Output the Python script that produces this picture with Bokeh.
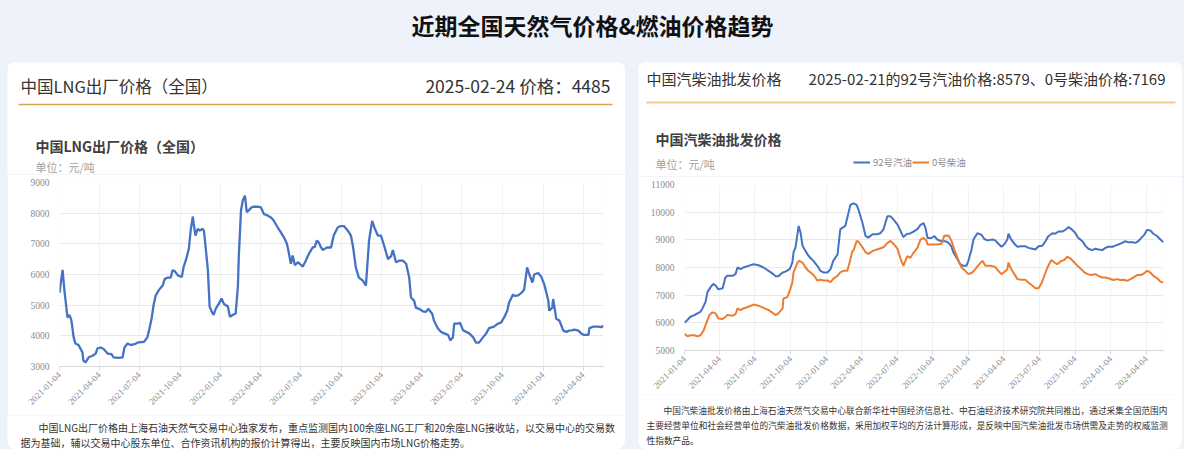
import pandas as pd
from math import pi
from bokeh.plotting import figure
from bokeh.layouts import column, row
from bokeh.models import (Range1d, FixedTicker, DatetimeTickFormatter, Legend,
                          LegendItem)
from bokeh.core.properties import value
from bokeh.embed import file_html
from bokeh.resources import INLINE

# ---------------- data ----------------
page_title = "近期全国天然气价格&燃油价格趋势"
lng_header = "中国LNG出厂价格（全国）"
lng_latest = "2025-02-24 价格：4485"
lng_chart_title = "中国LNG出厂价格（全国）"
oil_header = "中国汽柴油批发价格"
oil_latest = "2025-02-21的92号汽油价格:8579、0号柴油价格:7169"
oil_chart_title = "中国汽柴油批发价格"
unit_text = "单位：元/吨"
series_names = ["92号汽油", "0号柴油"]
lng_note = ["中国LNG出厂价格由上海石油天然气交易中心独家发布，重点监测国内100余座LNG工厂和20余座LNG接收站，以交易中心的交易数",
            "据为基础，辅以交易中心股东单位、合作资讯机构的报价计算得出，主要反映国内市场LNG价格走势。"]
oil_note = ["中国汽柴油批发价格由上海石油天然气交易中心联合新华社中国经济信息社、中石油经济技术研究院共同推出，通过采集全国范围内",
            "主要经营单位和社会经营单位的汽柴油批发价格数据，采用加权平均的方法计算形成，是反映中国汽柴油批发市场供需及走势的权威监测",
            "性指数产品。"]

x_tick_labels = ["2021-01-04", "2021-04-04", "2021-07-04", "2021-10-04",
                 "2022-01-04", "2022-04-04", "2022-07-04", "2022-10-04",
                 "2023-01-04", "2023-04-04", "2023-07-04", "2023-10-04",
                 "2024-01-04", "2024-04-04"]
lng_y_ticks = [3000, 4000, 5000, 6000, 7000, 8000, 9000]
oil_y_ticks = [5000, 6000, 7000, 8000, 9000, 10000, 11000]

lng_dates = [
    "2021-01-04", "2021-01-11", "2021-01-15", "2021-01-22", "2021-01-27", "2021-01-31",
    "2021-02-05", "2021-02-09", "2021-02-16", "2021-02-25", "2021-02-27", "2021-03-04",
    "2021-03-11", "2021-03-20", "2021-03-27", "2021-03-31", "2021-04-07", "2021-04-14",
    "2021-04-23", "2021-05-02", "2021-05-06", "2021-05-18", "2021-05-27", "2021-05-31",
    "2021-06-07", "2021-06-14", "2021-06-25", "2021-07-02", "2021-07-14", "2021-07-22",
    "2021-07-27", "2021-08-01", "2021-08-05", "2021-08-10", "2021-08-17", "2021-08-26",
    "2021-08-30", "2021-09-06", "2021-09-13", "2021-09-17", "2021-09-22", "2021-09-29",
    "2021-10-08", "2021-10-12", "2021-10-17", "2021-10-24", "2021-10-28", "2021-11-02",
    "2021-11-04", "2021-11-08", "2021-11-13", "2021-11-18", "2021-11-24", "2021-11-27",
    "2021-12-01", "2021-12-06", "2021-12-10", "2021-12-15", "2021-12-19", "2021-12-24",
    "2021-12-31", "2022-01-06", "2022-01-11", "2022-01-15", "2022-01-20", "2022-01-25",
    "2022-01-31", "2022-02-07", "2022-02-12", "2022-02-14", "2022-02-19", "2022-02-23",
    "2022-02-28", "2022-03-04", "2022-03-09", "2022-03-15", "2022-03-20", "2022-03-29",
    "2022-04-05", "2022-04-12", "2022-04-18", "2022-04-28", "2022-05-04", "2022-05-13",
    "2022-05-20", "2022-05-27", "2022-06-03", "2022-06-07", "2022-06-12", "2022-06-16",
    "2022-06-21", "2022-06-28", "2022-07-02", "2022-07-09", "2022-07-16", "2022-07-23",
    "2022-08-01", "2022-08-05", "2022-08-10", "2022-08-14", "2022-08-19", "2022-08-23",
    "2022-09-02", "2022-09-11", "2022-09-17", "2022-09-26", "2022-10-03", "2022-10-10",
    "2022-10-19", "2022-10-26", "2022-10-31", "2022-11-06", "2022-11-13", "2022-11-22",
    "2022-11-29", "2022-12-06", "2022-12-13", "2022-12-19", "2022-12-26", "2023-01-02",
    "2023-01-09", "2023-01-18", "2023-01-25", "2023-01-29", "2023-02-05", "2023-02-12",
    "2023-02-21", "2023-02-28", "2023-03-07", "2023-03-11", "2023-03-18", "2023-03-22",
    "2023-03-29", "2023-04-07", "2023-04-14", "2023-04-19", "2023-04-28", "2023-05-02",
    "2023-05-11", "2023-05-18", "2023-05-25", "2023-06-03", "2023-06-08", "2023-06-14",
    "2023-06-17", "2023-06-26", "2023-06-30", "2023-07-07", "2023-07-14", "2023-07-21",
    "2023-07-30", "2023-08-05", "2023-08-12", "2023-08-21", "2023-08-28", "2023-09-04",
    "2023-09-15", "2023-09-24", "2023-10-01", "2023-10-08", "2023-10-15", "2023-10-19",
    "2023-10-28", "2023-10-31", "2023-11-09", "2023-11-16", "2023-11-22", "2023-11-25",
    "2023-11-29", "2023-12-04", "2023-12-11", "2023-12-15", "2023-12-24", "2023-12-31",
    "2024-01-07", "2024-01-16", "2024-01-18", "2024-01-25", "2024-01-27", "2024-02-03",
    "2024-02-10", "2024-02-19", "2024-02-26", "2024-03-03", "2024-03-08", "2024-03-15",
    "2024-03-24", "2024-03-31", "2024-04-06", "2024-04-16", "2024-04-18", "2024-04-27",
    "2024-05-08", "2024-05-15", "2024-05-20"]
lng_values = [
    5400, 6150, 5500, 4600, 4680, 4500,
    3950, 3750, 3700, 3460, 3200, 3130,
    3300, 3350, 3420, 3590, 3620, 3570,
    3420, 3400, 3300, 3280, 3300, 3620,
    3750, 3700, 3740, 3790, 3800, 3950,
    4250, 4600, 5000, 5320, 5490, 5650,
    5850, 5900, 5900, 6140, 6110, 5970,
    5920, 6240, 6460, 6840, 7430, 7890,
    7650, 7270, 7490, 7430, 7490, 7430,
    6890, 6140, 4950, 4780, 4680, 4890,
    5050, 5220, 5050, 5000, 4970, 4620,
    4680, 4730, 5600, 6570, 8080, 8410,
    8570, 8030, 8100, 8190, 8210, 8210,
    8190, 7970, 7940, 7860, 7760, 7540,
    7380, 7220, 7000, 6730, 6350, 6620,
    6300, 6400, 6350, 6260, 6460, 6680,
    6890, 6890, 7110, 7050, 6890, 6800,
    6880, 6880, 7270, 7530, 7580, 7580,
    7430, 7270, 6880, 6230, 5900, 5800,
    5640, 7100, 7750, 7500, 7270, 7270,
    6950, 6500, 6600, 6800, 6400, 6450,
    6450, 6350, 5900, 5250, 5150, 4920,
    4880, 4800, 4780, 4880, 4720, 4500,
    4240, 4130, 4080, 4030, 3850, 3950,
    4400, 4400, 4430, 4180, 4130, 4080,
    3950, 3780, 3780, 3950, 4070, 4250,
    4300, 4400, 4430, 4600, 4820, 5080,
    5350, 5300, 5320, 5400, 5500, 5800,
    6230, 6000, 5740, 6000, 6050, 5930,
    5670, 5150, 4820, 4920, 5200, 4560,
    4500, 4170, 4130, 4170, 4180, 4200,
    4170, 4070, 4030, 4030, 4250, 4300,
    4300, 4280, 4330]

gas_dates = [
    "2021-01-04", "2021-01-12", "2021-01-19", "2021-01-30", "2021-02-06", "2021-02-14",
    "2021-02-19", "2021-02-27", "2021-03-04", "2021-03-12", "2021-03-19", "2021-03-25",
    "2021-04-01", "2021-04-12", "2021-04-19", "2021-04-24", "2021-05-07", "2021-05-15",
    "2021-05-20", "2021-05-28", "2021-06-04", "2021-06-17", "2021-06-30", "2021-07-13",
    "2021-07-26", "2021-08-08", "2021-08-20", "2021-08-26", "2021-09-02", "2021-09-13",
    "2021-09-20", "2021-10-01", "2021-10-08", "2021-10-11", "2021-10-16", "2021-10-21",
    "2021-10-24", "2021-10-29", "2021-11-03", "2021-11-16", "2021-11-23", "2021-12-01",
    "2021-12-11", "2021-12-19", "2021-12-27", "2022-01-06", "2022-01-14", "2022-01-21",
    "2022-02-01", "2022-02-08", "2022-02-14", "2022-02-21", "2022-03-01", "2022-03-06",
    "2022-03-14", "2022-03-22", "2022-03-27", "2022-04-06", "2022-04-14", "2022-04-21",
    "2022-05-02", "2022-05-14", "2022-05-22", "2022-05-30", "2022-06-09", "2022-06-17",
    "2022-06-25", "2022-07-05", "2022-07-12", "2022-07-20", "2022-07-30", "2022-08-07",
    "2022-08-15", "2022-08-25", "2022-09-02", "2022-09-10", "2022-09-15", "2022-09-20",
    "2022-09-30", "2022-10-08", "2022-10-15", "2022-10-26", "2022-11-05", "2022-11-13",
    "2022-11-20", "2022-11-26", "2022-12-06", "2022-12-13", "2022-12-21", "2022-12-29",
    "2023-01-03", "2023-01-11", "2023-01-16", "2023-01-26", "2023-02-05", "2023-02-13",
    "2023-02-21", "2023-03-06", "2023-03-13", "2023-03-21", "2023-03-29", "2023-04-05",
    "2023-04-13", "2023-04-16", "2023-04-23", "2023-05-01", "2023-05-09", "2023-05-19",
    "2023-05-29", "2023-06-06", "2023-06-16", "2023-06-24", "2023-07-02", "2023-07-12",
    "2023-07-20", "2023-07-27", "2023-08-07", "2023-08-14", "2023-08-22", "2023-09-01",
    "2023-09-09", "2023-09-17", "2023-09-27", "2023-10-05", "2023-10-12", "2023-10-23",
    "2023-10-30", "2023-11-07", "2023-11-17", "2023-11-25", "2023-12-03", "2023-12-13",
    "2023-12-21", "2023-12-28", "2024-01-08", "2024-01-15", "2024-01-23", "2024-02-02",
    "2024-02-10", "2024-02-18", "2024-02-28", "2024-03-07", "2024-03-14", "2024-03-22",
    "2024-03-30", "2024-04-06", "2024-04-14", "2024-04-22", "2024-05-02", "2024-05-10",
    "2024-05-18"]
gas_values = [
    6000, 6110, 6220, 6280, 6340, 6400,
    6520, 6760, 7110, 7290, 7410, 7350,
    7210, 7250, 7640, 7700, 7700, 7760,
    8000, 7940, 8000, 8060, 8120, 8080,
    8000, 7880, 7760, 7680, 7680, 7820,
    7850, 7940, 8180, 8550, 8730, 9200,
    9500, 9260, 8790, 8470, 8350, 8240,
    8060, 7880, 7820, 7820, 7940, 8240,
    8470, 9380, 9440, 9500, 9970, 10260,
    10320, 10260, 10080, 9610, 9140, 9080,
    9200, 9200, 9240, 9380, 9850, 9850,
    9730, 9550, 9340, 9100, 9220, 9230,
    9300, 9390, 9540, 9600, 9420, 9070,
    9070, 9130, 9010, 8950, 8950, 8890,
    8770, 8530, 8300, 8120, 8060, 8060,
    8240, 8650, 9010, 9240, 9190, 9030,
    8980, 9010, 8980, 8860, 8750, 8830,
    9010, 9220, 9010, 8860, 8750, 8770,
    8770, 8710, 8680, 8650, 8770, 8790,
    8950, 9130, 9240, 9220, 9300, 9300,
    9360, 9460, 9360, 9240, 9070, 8950,
    8790, 8680, 8630, 8680, 8650, 8630,
    8710, 8750, 8750, 8790, 8830, 8890,
    8950, 8910, 8910, 8890, 8950, 9070,
    9190, 9360, 9340, 9220, 9130, 9010,
    8910]

diesel_dates = [
    "2021-01-04", "2021-01-12", "2021-01-19", "2021-01-30", "2021-02-06", "2021-02-14",
    "2021-02-22", "2021-03-01", "2021-03-09", "2021-03-17", "2021-03-25", "2021-04-01",
    "2021-04-12", "2021-04-19", "2021-04-24", "2021-05-07", "2021-05-15", "2021-05-20",
    "2021-05-28", "2021-06-04", "2021-06-17", "2021-06-30", "2021-07-13", "2021-07-26",
    "2021-08-08", "2021-08-20", "2021-08-26", "2021-09-02", "2021-09-13", "2021-09-15",
    "2021-09-25", "2021-10-03", "2021-10-08", "2021-10-11", "2021-10-21", "2021-10-26",
    "2021-11-03", "2021-11-11", "2021-11-18", "2021-11-29", "2021-12-06", "2021-12-11",
    "2021-12-19", "2021-12-27", "2022-01-06", "2022-01-14", "2022-01-21", "2022-02-01",
    "2022-02-08", "2022-02-16", "2022-02-26", "2022-03-04", "2022-03-11", "2022-03-14",
    "2022-03-22", "2022-03-27", "2022-04-06", "2022-04-14", "2022-04-21", "2022-05-04",
    "2022-05-17", "2022-05-30", "2022-06-09", "2022-06-17", "2022-06-25", "2022-07-05",
    "2022-07-12", "2022-07-20", "2022-07-30", "2022-08-07", "2022-08-15", "2022-08-25",
    "2022-09-02", "2022-09-10", "2022-09-17", "2022-09-20", "2022-10-03", "2022-10-15",
    "2022-10-26", "2022-11-02", "2022-11-13", "2022-11-20", "2022-11-28", "2022-12-06",
    "2022-12-16", "2022-12-26", "2023-01-03", "2023-01-13", "2023-01-21", "2023-01-31",
    "2023-02-08", "2023-02-16", "2023-03-01", "2023-03-13", "2023-03-21", "2023-03-29",
    "2023-04-05", "2023-04-13", "2023-04-16", "2023-04-23", "2023-05-01", "2023-05-09",
    "2023-05-19", "2023-05-29", "2023-06-06", "2023-06-16", "2023-06-24", "2023-07-02",
    "2023-07-09", "2023-07-17", "2023-07-25", "2023-08-04", "2023-08-12", "2023-08-19",
    "2023-08-30", "2023-09-06", "2023-09-14", "2023-09-24", "2023-10-02", "2023-10-10",
    "2023-10-20", "2023-10-28", "2023-11-05", "2023-11-15", "2023-11-25", "2023-12-03",
    "2023-12-13", "2023-12-21", "2023-12-28", "2024-01-10", "2024-01-21", "2024-01-28",
    "2024-02-05", "2024-02-15", "2024-02-23", "2024-03-02", "2024-03-12", "2024-03-22",
    "2024-03-30", "2024-04-06", "2024-04-14", "2024-04-22", "2024-05-02", "2024-05-10",
    "2024-05-18"]
diesel_values = [
    5600, 5510, 5550, 5550, 5510, 5550,
    5720, 5990, 6280, 6380, 6340, 6160,
    6140, 6220, 6280, 6260, 6310, 6520,
    6460, 6520, 6580, 6660, 6620, 6540,
    6460, 6340, 6280, 6340, 6520, 6880,
    6930, 7230, 7470, 7820, 8180, 8240,
    8180, 8000, 7880, 7760, 7640, 7530,
    7560, 7530, 7530, 7470, 7590, 7700,
    7820, 7880, 7880, 8180, 8590, 8610,
    8960, 8930, 8730, 8550, 8490, 8610,
    8670, 8730, 8880, 8960, 8850, 8670,
    8350, 8060, 8410, 8350, 8530, 8710,
    9010, 9070, 8980, 8830, 8830, 8830,
    8860, 9150, 9160, 8980, 8650, 8350,
    8000, 7880, 7760, 7820, 7940, 8120,
    8240, 8060, 8060, 8020, 7880, 7760,
    7840, 7940, 8180, 7940, 7760, 7580,
    7560, 7560, 7460, 7350, 7250, 7250,
    7410, 7700, 8000, 8270, 8180, 8120,
    8240, 8270, 8390, 8300, 8180, 8060,
    7940, 7820, 7760, 7730, 7760, 7700,
    7640, 7640, 7610, 7550, 7580, 7550,
    7560, 7520, 7580, 7640, 7730, 7730,
    7800, 7880, 7820, 7700, 7610, 7490,
    7460]

# ---------------- styles ----------------
SANS = "Noto Sans CJK SC"
SERIF = "Liberation Serif"
PAGE_BG = "#edf2fb"
CARD_BG = "#ffffff"
BLUE = "#4472c4"
ORANGE = "#ed7d31"
TICK_C = "#8c8c8c"


def no_align(p):
    if hasattr(p, "frame_align"):
        p.frame_align = False
    return p


def blank(w, h, bg):
    p = figure(width=w, height=h, x_range=Range1d(0, w), y_range=Range1d(h, 0),
               x_axis_type=None, y_axis_type=None, toolbar_location=None,
               output_backend="svg", min_border=0, outline_line_color=None,
               background_fill_color=bg, border_fill_color=bg)
    p.min_border_left = p.min_border_right = p.min_border_top = p.min_border_bottom = 0
    return no_align(p)


def txt(p, x, y, s, size, color, font=SANS, bold=False, align="left"):
    p.text(x=[x], y=[y], text=[s], text_font=value(font), text_font_size=size,
           text_color=color, text_align=align, text_baseline="middle",
           text_font_style="bold" if bold else "normal")


def rule(p, x0, x1, y, color, width):
    p.line(x=[x0, x1], y=[y, y], line_color=color, line_width=width)


def chart(w, h, dates_first, dates_last, yticks, lb, rb, tb, bb):
    p = figure(width=w, height=h, x_axis_type="datetime",
               x_range=Range1d(dates_first, dates_last),
               y_range=Range1d(yticks[0], yticks[-1]),
               toolbar_location=None, output_backend="svg",
               min_border_left=lb, min_border_right=rb,
               min_border_top=tb, min_border_bottom=bb,
               outline_line_color=None, background_fill_color=CARD_BG,
               border_fill_color=CARD_BG)
    tick_ms = [pd.Timestamp(t).value / 1e6 for t in x_tick_labels]
    p.xaxis.ticker = FixedTicker(ticks=tick_ms)
    fmt = "%Y-%m-%d"
    p.xaxis.formatter = DatetimeTickFormatter(
        microseconds=fmt, milliseconds=fmt, seconds=fmt, minsec=fmt, minutes=fmt,
        hourmin=fmt, hours=fmt, days=fmt, months=fmt, years=fmt)
    p.xaxis.major_label_orientation = pi / 4
    p.xaxis.axis_line_color = "#d9d9d9"
    p.xaxis.major_tick_line_color = "#d9d9d9"
    p.xaxis.major_tick_out = 4
    p.xaxis.major_tick_in = 0
    p.xaxis.minor_tick_line_color = None
    p.xaxis.major_label_text_font = SERIF
    p.xaxis.major_label_text_font_size = "9px"
    p.xaxis.major_label_text_color = TICK_C
    p.xaxis.major_label_standoff = 3
    p.yaxis.ticker = FixedTicker(ticks=yticks)
    p.yaxis.axis_line_color = None
    p.yaxis.major_tick_line_color = None
    p.yaxis.minor_tick_line_color = None
    p.yaxis.major_label_text_font = SERIF
    p.yaxis.major_label_text_font_size = "9.5px"
    p.yaxis.major_label_text_color = TICK_C
    p.yaxis.major_label_standoff = 4
    p.ygrid.grid_line_color = "#e9e9e9"
    p.xgrid.grid_line_color = "#f3f3f3"
    return no_align(p)


# ---------------- title band ----------------
W = 1184
title_fig = blank(W, 62, PAGE_BG)
txt(title_fig, 592, 24, page_title, "23px", "#111111", bold=True, align="center")

# ---------------- left card (x 7..625, y 62..449) ----------------
LW = 618
lng_x = pd.to_datetime(lng_dates)
hdr_L = blank(LW, 112, CARD_BG)
txt(hdr_L, 13, 23, lng_header, "16.5px", "#333333")
txt(hdr_L, 603, 23, lng_latest, "17.5px", "#333333", align="right")
rule(hdr_L, 11, 605, 42, "#d6a255", 1.5)
txt(hdr_L, 28, 83, lng_chart_title, "14px", "#404040", bold=True)
txt(hdr_L, 28, 104, unit_text, "11px", "#a0a0a0")

chart_L = chart(LW, 241, lng_x[0], lng_x[-1], lng_y_ticks, 52, 22, 8, 49)
chart_L.line(lng_x, lng_values, line_color=BLUE, line_width=2.3)

foot_L = blank(LW, 34, CARD_BG)
txt(foot_L, 31, 12, lng_note[0], "10px", "#333333")
txt(foot_L, 13, 26.5, lng_note[1], "10px", "#333333")

left_card = column(hdr_L, chart_L, foot_L,
                   styles={"border-radius": "8px", "overflow": "hidden"})

# ---------------- right card (x 638..1182, y 62..449) ----------------
RW = 544
gas_x = pd.to_datetime(gas_dates)
diesel_x = pd.to_datetime(diesel_dates)

chart_R = chart(RW, 218, gas_x[0], gas_x[-1], oil_y_ticks, 46, 19, 8, 41)
r_gas = chart_R.line(gas_x, gas_values, line_color=BLUE, line_width=2)
r_die = chart_R.line(diesel_x, diesel_values, line_color=ORANGE, line_width=2)

hdr_R = blank(RW, 114, CARD_BG)
txt(hdr_R, 8, 16, oil_header, "15px", "#333333")
txt(hdr_R, 527, 16, oil_latest, "15px", "#333333", align="right")
rule(hdr_R, 8, 537, 40, "#f4c98c", 2)
txt(hdr_R, 17, 76, oil_chart_title, "14px", "#404040", bold=True)
txt(hdr_R, 17, 101, unit_text, "11px", "#a0a0a0")
# legend keys styled like the two series lines (no data of their own)
nan = float("nan")
k_gas = hdr_R.line(x=[nan], y=[nan], line_color=BLUE, line_width=2)
k_die = hdr_R.line(x=[nan], y=[nan], line_color=ORANGE, line_width=2)
legend = Legend(items=[LegendItem(label=series_names[0], renderers=[k_gas]),
                       LegendItem(label=series_names[1], renderers=[k_die])],
                orientation="horizontal", location=(215, 7),
                label_text_font=SANS, label_text_font_size="9.5px",
                label_text_color=TICK_C, glyph_width=17, glyph_height=12,
                label_height=12, label_standoff=3, spacing=0, padding=0,
                margin=0, border_line_color=None, background_fill_alpha=0)
hdr_R.add_layout(legend)

foot_R = blank(RW, 55, CARD_BG)
txt(foot_R, 25, 16, oil_note[0], "8.7px", "#333333")
txt(foot_R, 8, 31, oil_note[1], "8.7px", "#333333")
txt(foot_R, 8, 46, oil_note[2], "8.7px", "#333333")

right_card = column(hdr_R, chart_R, foot_R,
                    styles={"border-radius": "8px", "overflow": "hidden"})

gap0 = blank(7, 387, PAGE_BG)
gap = blank(13, 387, PAGE_BG)
pad = blank(2, 387, PAGE_BG)

root = column(title_fig, row(gap0, left_card, gap, right_card, pad),
              styles={"background-color": PAGE_BG})

open("out.html", "w").write(file_html(root, INLINE))
